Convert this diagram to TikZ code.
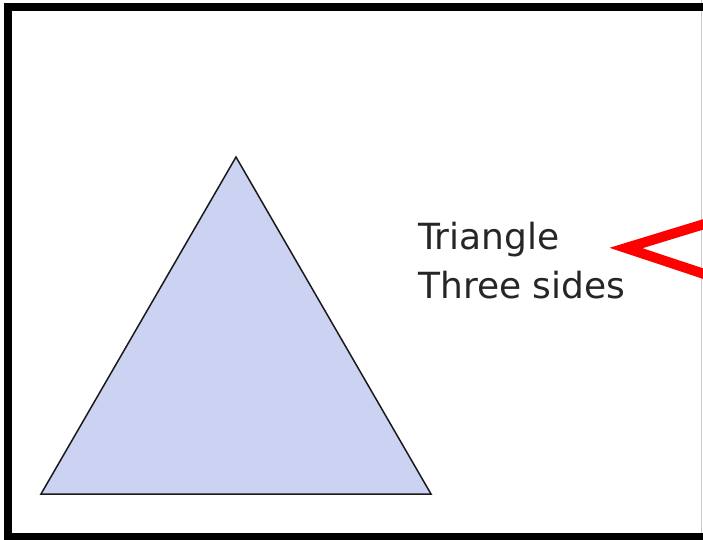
\documentclass[tikz,border=0pt]{standalone}
\usepackage{fontspec}
\setmainfont{DejaVu Sans}
\usetikzlibrary{positioning}
\definecolor{shFill}{HTML}{CCD3F2}
\definecolor{shEdge}{HTML}{1A1A1A}
\definecolor{shPoint}{HTML}{FF0000}
\definecolor{shRim}{HTML}{C8C8C8}
\tikzset{
  frameline/.style={line width=8pt, black, line join=miter},
  rimline/.style={line width=1pt, shRim},
  triface/.style={fill=shFill, draw=shEdge, line width=1.5pt, line join=miter},
  caption/.style={font=\fontsize{36}{49}\selectfont, inner sep=0pt, anchor=base west, text=black!85},
  pointer/.style={line width=10pt, shPoint, line join=miter, miter limit=20}
}
\begin{document}
\begin{tikzpicture}[x=1pt, y=-1pt]
  \useasboundingbox (0,0) rectangle (703,539);
  \clip (0,0) rectangle (703,539);
  \fill[white] (0,0) rectangle (703,539);
  % frame
  \draw[rimline] (701.5,0) -- (701.5,539);
  \draw[frameline] (720,7) -- (8,7) -- (8,537) -- (720,537);
  % the shape
  \coordinate (apex) at (236,157);
  \coordinate (left) at (41,494);
  \coordinate (right) at (431,494);
  \draw[triface] (apex) -- (right) -- (left) -- cycle;
  % its text
  \node[caption] (name) at (418,249) {Triangle};
  \node[caption, below=49pt of name.base west, anchor=base west] (sides) {Three sides};
  % pointer
  \coordinate (tip) at (626,248);
  \coordinate (upper) at (760,207);
  \coordinate (lower) at (760,292.5);
  \draw[pointer] (upper) -- (tip) -- (lower);
\end{tikzpicture}
\end{document}
